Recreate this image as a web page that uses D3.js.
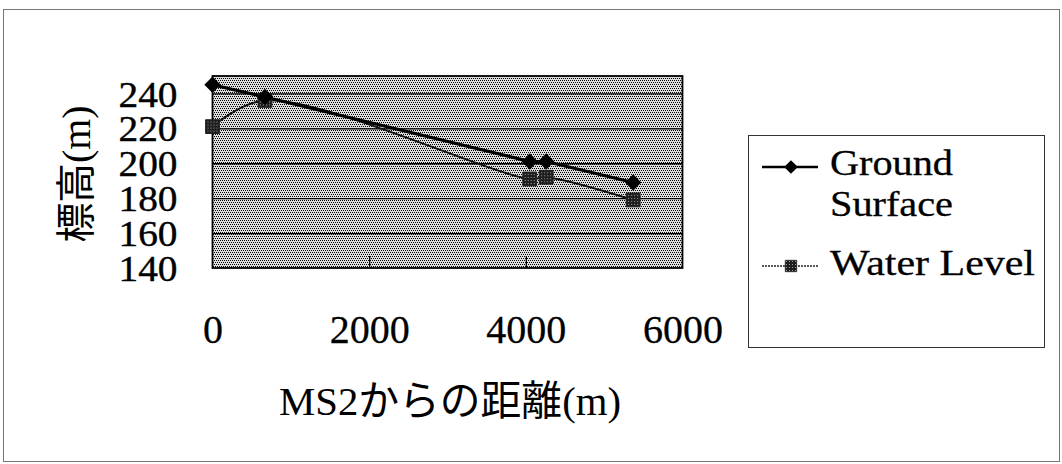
<!DOCTYPE html>
<html>
<head>
<meta charset="utf-8">
<script src="https://cdn.jsdelivr.net/npm/d3@7/dist/d3.min.js"></script>
<style>
  html, body { margin: 0; padding: 0; background: #fff; }
  svg { display: block; }
  text { fill: #000; }
</style>
</head>
<body>
<svg id="chart" width="1062" height="464"></svg>
<script>
// Distance from MS2 (m) for each observation point
const distances = [0, 670, 4050, 4260, 5370];
// Elevation of the ground surface (m)
const groundSurface = [245, 238, 201, 201, 189];
// Groundwater level (m)
const waterLevel = [221, 236, 191, 192, 179];

const xTicks = [0, 2000, 4000, 6000];
const yTicks = [140, 160, 180, 200, 220, 240];

const seriesNames = ["Ground", "Surface", "Water Level"];
const xTitle = "MS2からの距離(m)";
const yTitle = "標高(m)";

const SERIF = "'Liberation Serif', 'Times New Roman', serif";
const MIXED = "'Liberation Serif', 'Noto Sans CJK JP', serif";

const svg = d3.select("#chart");
const W = 1062, H = 464;

const plot = { left: 212.5, right: 682.5, top: 76, bottom: 268 };

const x = d3.scaleLinear().domain([0, 6000]).range([plot.left, plot.right]);
const y = d3.scaleLinear().domain([140, 250]).range([plot.bottom, plot.top]);

const defs = svg.append("defs");

// halftone fill of the plot area: staggered dot lattice on light grey
const pat = defs.append("pattern")
  .attr("id", "halftone").attr("patternUnits", "userSpaceOnUse")
  .attr("width", 4).attr("height", 4);
pat.append("rect").attr("width", 4).attr("height", 4).attr("fill", "#dedede");
[[0,0],[2,0],[1,2],[3,2]].forEach(([px, py]) => {
  pat.append("rect").attr("x", px).attr("y", py).attr("width", 1).attr("height", 1).attr("fill", "#000");
});

// crosshatched marker fill for the water level series
const mpat = defs.append("pattern")
  .attr("id", "hatch").attr("patternUnits", "userSpaceOnUse")
  .attr("width", 3).attr("height", 3);
mpat.append("rect").attr("width", 3).attr("height", 3).attr("fill", "#1e1e1e");
mpat.append("rect").attr("x", 1).attr("y", 1).attr("width", 1).attr("height", 1).attr("fill", "#999");

// outer chart frame
svg.append("rect")
  .attr("x", 3.5).attr("y", 9.5).attr("width", W - 6).attr("height", H - 12)
  .attr("fill", "none").attr("stroke", "#777").attr("stroke-width", 1);

// plot area background
svg.append("rect")
  .attr("x", plot.left).attr("y", plot.top)
  .attr("width", plot.right - plot.left).attr("height", plot.bottom - plot.top)
  .attr("fill", "url(#halftone)");

// horizontal gridlines
const grid = svg.append("g")
  .attr("transform", `translate(${plot.left},0)`)
  .call(d3.axisLeft(y).tickValues(yTicks.slice(1)).tickSize(-(plot.right - plot.left)).tickFormat(""));
grid.select(".domain").remove();
grid.selectAll("line").attr("stroke", "#000").attr("stroke-width", 1.3);

// small inner tick marks along the bottom edge
const innerTicks = svg.append("g")
  .attr("transform", `translate(0,${plot.bottom})`)
  .call(d3.axisBottom(x).tickValues([2000, 4000]).tickSize(-12).tickFormat(""));
innerTicks.select(".domain").remove();
innerTicks.selectAll("line").attr("stroke", "#000").attr("stroke-width", 1.3);

// plot area border
svg.append("rect")
  .attr("x", plot.left).attr("y", plot.top)
  .attr("width", plot.right - plot.left).attr("height", plot.bottom - plot.top)
  .attr("fill", "none").attr("stroke", "#000").attr("stroke-width", 1.8);

// y axis labels
const yAxis = svg.append("g")
  .attr("transform", `translate(${plot.left},0)`)
  .call(d3.axisLeft(y).tickValues(yTicks).tickSize(0).tickPadding(35).tickFormat(d3.format("d")));
yAxis.attr("font-family", SERIF);
yAxis.select(".domain").remove();
yAxis.selectAll("text")
  .attr("font-size", 36).attr("dy", "0.35em")
  .attr("stroke", "#000").attr("stroke-width", 0.4)
  .attr("textLength", 59).attr("lengthAdjust", "spacingAndGlyphs");

// x axis labels
const xAxis = svg.append("g")
  .attr("transform", `translate(0,${plot.bottom})`)
  .call(d3.axisBottom(x).tickValues(xTicks).tickSize(0).tickPadding(47).tickFormat(d3.format("d")));
xAxis.attr("font-family", SERIF);
xAxis.select(".domain").remove();
xAxis.selectAll("text")
  .attr("font-size", 40)
  .attr("stroke", "#000").attr("stroke-width", 0.3);

// axis titles
svg.append("text")
  .attr("transform", "translate(76,174) rotate(-90)")
  .attr("font-family", MIXED)
  .attr("text-anchor", "middle").attr("dominant-baseline", "central")
  .attr("font-size", 40)
  .attr("textLength", 137).attr("lengthAdjust", "spacingAndGlyphs")
  .text(yTitle);

svg.append("text")
  .attr("x", 450).attr("y", 415)
  .attr("font-family", MIXED)
  .attr("text-anchor", "middle")
  .attr("font-size", 41)
  .attr("textLength", 342).attr("lengthAdjust", "spacingAndGlyphs")
  .text(xTitle);

// series
const gData = distances.map((d, i) => ({ x: d, y: groundSurface[i] }));
const wData = distances.map((d, i) => ({ x: d, y: waterLevel[i] }));

const straight = d3.line().x(d => x(d.x)).y(d => y(d.y));
const smooth = d3.line().x(d => x(d.x)).y(d => y(d.y)).curve(d3.curveCatmullRom.alpha(0.5));

svg.append("path").datum(wData)
  .attr("d", smooth).attr("fill", "none")
  .attr("stroke", "#111").attr("stroke-width", 2);

svg.append("path").datum(gData)
  .attr("d", straight).attr("fill", "none")
  .attr("stroke", "#000").attr("stroke-width", 3.2);

const diamond = d3.symbol().type(d3.symbolDiamond2).size(170);
const square = d3.symbol().type(d3.symbolSquare).size(190);

svg.append("g").selectAll("path").data(wData).join("path")
  .attr("transform", d => `translate(${x(d.x)},${y(d.y)})`)
  .attr("d", square).attr("fill", "url(#hatch)").attr("stroke", "#222").attr("stroke-width", 1);

svg.append("g").selectAll("path").data(gData).join("path")
  .attr("transform", d => `translate(${x(d.x)},${y(d.y)})`)
  .attr("d", diamond).attr("fill", "#000");

// legend
const lg = svg.append("g").attr("font-family", SERIF);
lg.append("rect")
  .attr("x", 748.5).attr("y", 135.5).attr("width", 296).attr("height", 212)
  .attr("fill", "#fff").attr("stroke", "#333").attr("stroke-width", 1);

lg.append("line").attr("x1", 762).attr("x2", 818).attr("y1", 167).attr("y2", 167)
  .attr("stroke", "#000").attr("stroke-width", 2.5);
lg.append("path").attr("transform", "translate(791,167)")
  .attr("d", d3.symbol().type(d3.symbolDiamond2).size(120)).attr("fill", "#000");
lg.append("text").attr("x", 830).attr("y", 175)
  .attr("font-size", 36).attr("stroke", "#000").attr("stroke-width", 0.3)
  .attr("textLength", 123).attr("lengthAdjust", "spacingAndGlyphs")
  .text(seriesNames[0]);
lg.append("text").attr("x", 830).attr("y", 216)
  .attr("font-size", 36).attr("stroke", "#000").attr("stroke-width", 0.3)
  .attr("textLength", 123).attr("lengthAdjust", "spacingAndGlyphs")
  .text(seriesNames[1]);

lg.append("line").attr("x1", 762).attr("x2", 818).attr("y1", 266).attr("y2", 266)
  .attr("stroke", "#222").attr("stroke-width", 1.5).attr("stroke-dasharray", "2,1");
lg.append("path").attr("transform", "translate(791,266)")
  .attr("d", d3.symbol().type(d3.symbolSquare).size(130))
  .attr("fill", "url(#hatch)").attr("stroke", "#222").attr("stroke-width", 0.8);
lg.append("text").attr("x", 830).attr("y", 275)
  .attr("font-size", 36).attr("stroke", "#000").attr("stroke-width", 0.3)
  .attr("textLength", 205).attr("lengthAdjust", "spacingAndGlyphs")
  .text(seriesNames[2]);
</script>
</body>
</html>
